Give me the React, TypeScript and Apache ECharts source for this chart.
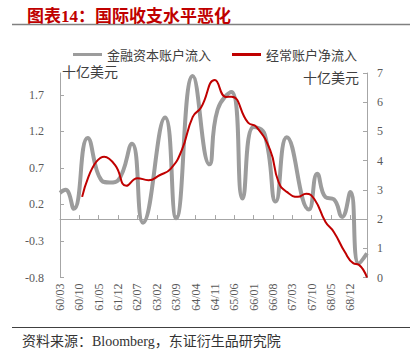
import React, { useEffect, useRef } from "react";
import * as echarts from "echarts";

const months = [
  "60/03", "60/04", "60/05", "60/06", "60/07", "60/08", "60/09", "60/10", "60/11", "60/12",
  "61/01", "61/02", "61/03", "61/04", "61/05", "61/06", "61/07", "61/08", "61/09", "61/10", "61/11", "61/12",
  "62/01", "62/02", "62/03", "62/04", "62/05", "62/06", "62/07", "62/08", "62/09", "62/10", "62/11", "62/12",
  "63/01", "63/02", "63/03", "63/04", "63/05", "63/06", "63/07", "63/08", "63/09", "63/10", "63/11", "63/12",
  "64/01", "64/02", "64/03", "64/04", "64/05", "64/06", "64/07", "64/08", "64/09", "64/10", "64/11", "64/12",
  "65/01", "65/02", "65/03", "65/04", "65/05", "65/06", "65/07", "65/08", "65/09", "65/10", "65/11", "65/12",
  "66/01", "66/02", "66/03", "66/04", "66/05", "66/06", "66/07", "66/08", "66/09", "66/10", "66/11", "66/12",
  "67/01", "67/02", "67/03", "67/04", "67/05", "67/06", "67/07", "67/08", "67/09", "67/10", "67/11", "67/12",
  "68/01", "68/02", "68/03", "68/04", "68/05", "68/06", "68/07", "68/08", "68/09", "68/10", "68/11", "68/12",
  "69/01", "69/02", "69/03", "69/04", "69/05", "69/06",
];

// 金融资本账户流入 (left axis, 十亿美元)
const grayMonths = [
  "60/03", "60/05", "60/08", "61/01", "61/06", "61/09", "61/12", "62/05", "62/09", "63/05",
  "63/09", "64/03", "64/09", "64/12", "65/05", "65/09", "66/01", "66/05", "66/09", "67/01",
  "67/09", "67/12", "68/03", "68/06", "68/09", "68/12", "69/03", "69/06",
];
const grayValues = [
  0.36, 0.4, 0.14, 1.11, 0.53, 0.5, 0.53, 1.03, -0.05, 1.39,
  0.01, 1.96, 0.75, 1.5, 1.74, 0.28, 1.26, 1.16, 0.24, 1.12,
  0.13, 0.62, 0.3, 0.27, 0.03, 0.37, -0.61, -0.47,
];

// 经常账户净流入 (right axis, 十亿美元)
const redMonths = [
  "60/11", "61/07", "61/11", "62/03", "62/07", "62/11", "63/03", "63/07", "63/11", "64/03",
  "64/06", "64/11", "65/03", "65/05", "65/11", "66/02", "66/07", "66/10", "67/01", "67/05",
  "67/08", "67/11", "68/03", "68/06", "68/10", "69/01", "69/03", "69/06",
];
const redValues = [
  2.76, 4.13, 3.84, 3.14, 3.4, 3.33, 3.5, 3.72, 4.35, 5.5,
  5.82, 6.76, 6.18, 6.19, 5.3, 5.16, 4.36, 3.27, 2.93, 2.76,
  2.87, 2.68, 1.9, 1.56, 0.87, 0.49, 0.44, 0.0,
];

const leftTicks = [-0.8, -0.3, 0.2, 0.7, 1.2, 1.7];
const rightMin = 0;
const rightMax = 7;

const SERIF = '"Liberation Serif", "Noto Sans CJK SC", serif';
const CJK = '"Noto Sans CJK SC", sans-serif';
const AXIS = "#A6A6A6";
const LABEL = "#595959";

export default function App() {
  const ref = useRef<HTMLDivElement>(null);
  useEffect(() => {
    if (!ref.current) return;
    const chart = echarts.init(ref.current, null, { renderer: "svg" });
    const grayData = grayMonths.map((m, i) => [m, grayValues[i]]);
    const redData = redMonths.map((m, i) => [m, redValues[i]]);
    chart.setOption({
      animation: false,
      backgroundColor: "#ffffff",
      title: {
        text: "图表14：国际收支水平恶化",
        left: 22,
        top: 3,
        textStyle: { color: "#C00000", fontSize: 17, fontWeight: "bold", fontFamily: SERIF },
      },
      legend: {
        left: 68,
        top: 43,
        itemWidth: 29,
        itemHeight: 3,
        itemGap: 21,
        icon: "rect",
        textStyle: { fontSize: 13, color: "#404040", fontFamily: CJK },
        data: ["金融资本账户流入", "经常账户净流入"],
      },
      grid: { left: 60, right: 43, top: 73, bottom: 86.5, containLabel: false },
      xAxis: [
        {
          type: "category",
          data: months,
          boundaryGap: false,
          position: "bottom",
          axisLine: { show: false, onZero: false },
          axisTick: { show: false },
          axisLabel: {
            rotate: 90,
            interval: 6,
            margin: 6,
            fontSize: 12,
            color: LABEL,
            fontFamily: SERIF,
          },
          splitLine: { show: false },
        },
        {
          type: "category",
          data: months,
          boundaryGap: false,
          position: "bottom",
          axisLine: { show: true, onZero: true, onZeroAxisIndex: 0, lineStyle: { color: AXIS, width: 1 } },
          axisTick: { show: true, inside: true, length: 4, interval: 6, lineStyle: { color: AXIS } },
          axisLabel: { show: false },
          splitLine: { show: false },
        },
      ],
      yAxis: [
        {
          type: "value",
          position: "left",
          min: -0.8,
          max: 2.0,
          axisLine: { show: true, onZero: false, lineStyle: { color: AXIS, width: 1 } },
          axisTick: { show: true, inside: true, length: 4, customValues: leftTicks, lineStyle: { color: AXIS } },
          axisLabel: {
            customValues: leftTicks,
            formatter: (v: number) => v.toFixed(1),
            margin: 16,
            fontSize: 12,
            color: LABEL,
            fontFamily: SERIF,
          },
          splitLine: { show: false },
        },
        {
          type: "value",
          position: "right",
          min: rightMin,
          max: rightMax,
          interval: 1,
          axisLine: { show: true, onZero: false, lineStyle: { color: AXIS, width: 1 } },
          axisTick: { show: true, inside: true, length: 4, lineStyle: { color: AXIS } },
          axisLabel: { margin: 10, fontSize: 12, color: LABEL, fontFamily: SERIF },
          splitLine: { show: false },
        },
      ],
      series: [
        {
          name: "金融资本账户流入",
          type: "line",
          xAxisIndex: 0,
          yAxisIndex: 0,
          data: grayData,
          smooth: 0.5,
          symbol: "none",
          lineStyle: { color: "#9C9C9C", width: 4 },
          itemStyle: { color: "#9C9C9C" },
          z: 2,
        },
        {
          name: "经常账户净流入",
          type: "line",
          xAxisIndex: 0,
          yAxisIndex: 1,
          data: redData,
          smooth: 0.5,
          symbol: "none",
          lineStyle: { color: "#C00000", width: 2 },
          itemStyle: { color: "#C00000" },
          z: 3,
        },
      ],
      graphic: [
        {
          type: "line",
          shape: { x1: 12, y1: 24.5, x2: 410, y2: 24.5 },
          style: { stroke: "#808080", lineWidth: 1.5 },
        },
        {
          type: "line",
          shape: { x1: 12, y1: 327.5, x2: 410, y2: 327.5 },
          style: { stroke: "#404040", lineWidth: 1 },
        },
        {
          type: "text",
          left: 62,
          top: 64,
          style: { text: "十亿美元", fontSize: 14, fill: "#404040", fontFamily: CJK },
        },
        {
          type: "text",
          left: 303,
          top: 70,
          style: { text: "十亿美元", fontSize: 14, fill: "#404040", fontFamily: CJK },
        },
        {
          type: "text",
          left: 22,
          top: 334,
          style: { text: "资料来源：Bloomberg，东证衍生品研究院", fontSize: 14, fill: "#333333", fontFamily: SERIF },
        },
      ],
    });
    return () => chart.dispose();
  }, []);
  return <div ref={ref} style={{ position: "fixed", left: 0, top: 0, width: 410, height: 364 }} />;
}
